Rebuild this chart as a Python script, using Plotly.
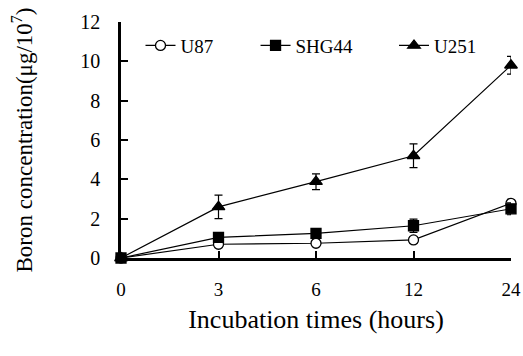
import plotly.graph_objects as go

times = ["0", "3", "6", "12", "24"]
u87 = [0, 0.7, 0.75, 0.92, 2.78]
u87_err = [0, 0.15, 0.12, 0.15, 0.2]
shg44 = [0, 1.05, 1.25, 1.64, 2.5]
shg44_err = [0, 0.15, 0.15, 0.34, 0.3]
u251 = [0, 2.6, 3.88, 5.2, 9.8]
u251_err = [0, 0.6, 0.4, 0.6, 0.45]

FONT = "Liberation Serif, Times New Roman, serif"
fig = go.Figure()

def add(name, y, err, symbol, size, fill, legend):
    fig.add_trace(go.Scatter(
        x=times, y=y, name=name, mode="lines+markers", legend=legend,
        line=dict(color="black", width=1.2),
        marker=dict(symbol=symbol, size=size, color=fill,
                    line=dict(color="black", width=1.3)),
        error_y=dict(type="data", array=err, visible=True, color="black",
                     thickness=1.2, width=4),
        cliponaxis=False,
    ))

add("U87", u87, u87_err, "circle", 10, "white", "legend")
add("SHG44", shg44, shg44_err, "square", 10, "black", "legend2")
add("U251", u251, u251_err, "triangle-up", 11, "black", "legend3")

def leg(x):
    return dict(x=x, y=0.9, xanchor="left", yanchor="middle",
                font=dict(family=FONT, size=19), bgcolor="rgba(0,0,0,0)",
                itemwidth=30)

fig.update_layout(
    width=523, height=356,
    margin=dict(l=121, r=12, t=22, b=98),
    paper_bgcolor="white", plot_bgcolor="white",
    font=dict(family=FONT, color="black", size=17),
    showlegend=True,
    legend=leg(0.05),
    legend2=leg(0.345),
    legend3=leg(0.7),
    xaxis=dict(
        type="category", range=[0, 4], showgrid=False, zeroline=False,
        showline=True, linecolor="black", linewidth=2.5, automargin=False,
        ticks="inside", ticklen=7, tickwidth=2, tickcolor="black",
        ticklabelstandoff=12,
        tickfont=dict(family=FONT, size=19),
        title=dict(text="Incubation times (hours)", font=dict(family=FONT, size=26),
                   standoff=12),
    ),
    yaxis=dict(
        range=[0, 12], dtick=2, showgrid=False, zeroline=False,
        showline=True, linecolor="black", linewidth=2.5, automargin=False,
        ticks="inside", ticklen=7, tickwidth=2, tickcolor="black",
        ticklabelstandoff=14,
        tickfont=dict(family=FONT, size=20),
        title=dict(text="Boron concentration(μg/10<sup>7</sup>)",
                   font=dict(family=FONT, size=23), standoff=42),
    ),
)

fig.write_html(
    "out.html",
    config={"displayModeBar": False},
    post_script="document.documentElement.style.overflow='hidden';"
                "document.body.style.margin='0';document.body.style.overflow='hidden';",
)
